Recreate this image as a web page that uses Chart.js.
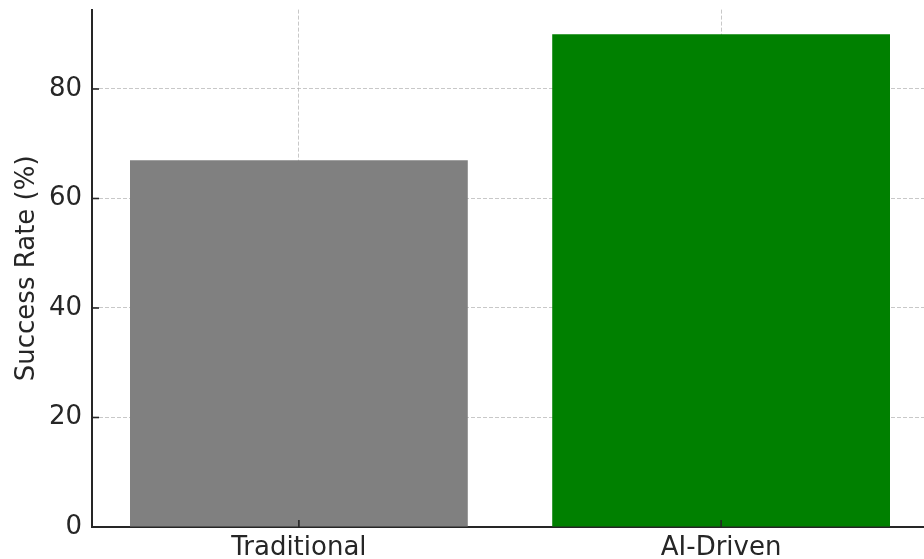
<!DOCTYPE html>
<html>
<head>
<meta charset="utf-8">
<script src="https://cdn.jsdelivr.net/npm/chart.js@4/dist/chart.umd.min.js"></script>
<style>
  html, body { margin: 0; padding: 0; background: #ffffff; }
  #wrap { position: relative; width: 924px; height: 559px; overflow: hidden; background: #fff; }
  #c { position: absolute; left: 0; top: 0; }
</style>
</head>
<body>
<div id="wrap"><canvas id="c" width="940" height="559"></canvas></div>
<script>
const categories = ["Traditional", "AI-Driven"];
const successRates = [67, 90];
const barColors = ["#808080", "#008000"];
const yTicks = [0, 20, 40, 60, 80];
const yLabel = "Success Rate (%)";

const FONT = "'DejaVu Sans', 'Liberation Sans', sans-serif";
const TEXT = "#262626";

const points = successRates.map((v, i) => ({ x: i, y: v }));

const innerTicks = {
  id: 'innerTicks',
  afterDraw(chart) {
    const ctx = chart.ctx;
    const xs = chart.scales.x, ys = chart.scales.y;
    ctx.save();
    ctx.strokeStyle = TEXT;
    ctx.lineWidth = 1.6;
    ys.ticks.forEach((t) => {
      const py = ys.getPixelForValue(t.value);
      ctx.beginPath();
      ctx.moveTo(xs.left, py);
      ctx.lineTo(xs.left + 7, py);
      ctx.stroke();
    });
    xs.ticks.forEach((t) => {
      const px = xs.getPixelForValue(t.value);
      ctx.beginPath();
      ctx.moveTo(px, ys.bottom);
      ctx.lineTo(px, ys.bottom - 7);
      ctx.stroke();
    });
    ctx.restore();
  }
};

new Chart(document.getElementById('c'), {
  type: 'bar',
  data: {
    datasets: [{
      data: points,
      backgroundColor: barColors,
      borderWidth: 0,
      barPercentage: 0.8,
      categoryPercentage: 1.0
    }]
  },
  options: {
    responsive: false,
    animation: false,
    devicePixelRatio: 1,
    layout: { padding: { left: 0, top: 9.6, right: 12, bottom: 0 } },
    plugins: {
      legend: { display: false },
      tooltip: { enabled: false },
      title: { display: false }
    },
    scales: {
      x: {
        type: 'linear',
        min: -0.49,
        max: 1.49,
        offset: false,
        z: 1,
        afterFit(scale) { scale.height = 32; scale.paddingLeft = 0; scale.paddingRight = 0; },
        afterBuildTicks(scale) {
          scale.ticks = categories.map((c, i) => ({ value: i }));
        },
        ticks: {
          color: TEXT,
          font: { family: FONT, size: 26 },
          padding: 6,
          maxRotation: 0,
          autoSkip: false,
          callback: (v) => categories[v] !== undefined ? categories[v] : ''
        },
        grid: {
          offset: false,
          color: 'rgba(176,176,176,0.7)',
          lineWidth: 1,
          drawTicks: false
        },
        border: { display: true, color: TEXT, width: 2, dash: [4, 2] }
      },
      y: {
        type: 'linear',
        min: 0,
        max: 94.5,
        z: 1,
        afterFit(scale) { scale.width = 92; scale.paddingTop = 0; scale.paddingBottom = 0; },
        afterBuildTicks(scale) {
          scale.ticks = yTicks.map(v => ({ value: v }));
        },
        ticks: {
          color: TEXT,
          font: { family: FONT, size: 26 },
          padding: 10
        },
        grid: {
          color: 'rgba(176,176,176,0.7)',
          lineWidth: 1,
          drawTicks: false
        },
        border: { display: true, color: TEXT, width: 2, dash: [4, 2] },
        title: {
          display: true,
          text: yLabel,
          color: TEXT,
          font: { family: FONT, size: 26 },
          padding: { top: 12, bottom: 0 }
        }
      }
    }
  },
  plugins: [innerTicks]
});
</script>
</body>
</html>
